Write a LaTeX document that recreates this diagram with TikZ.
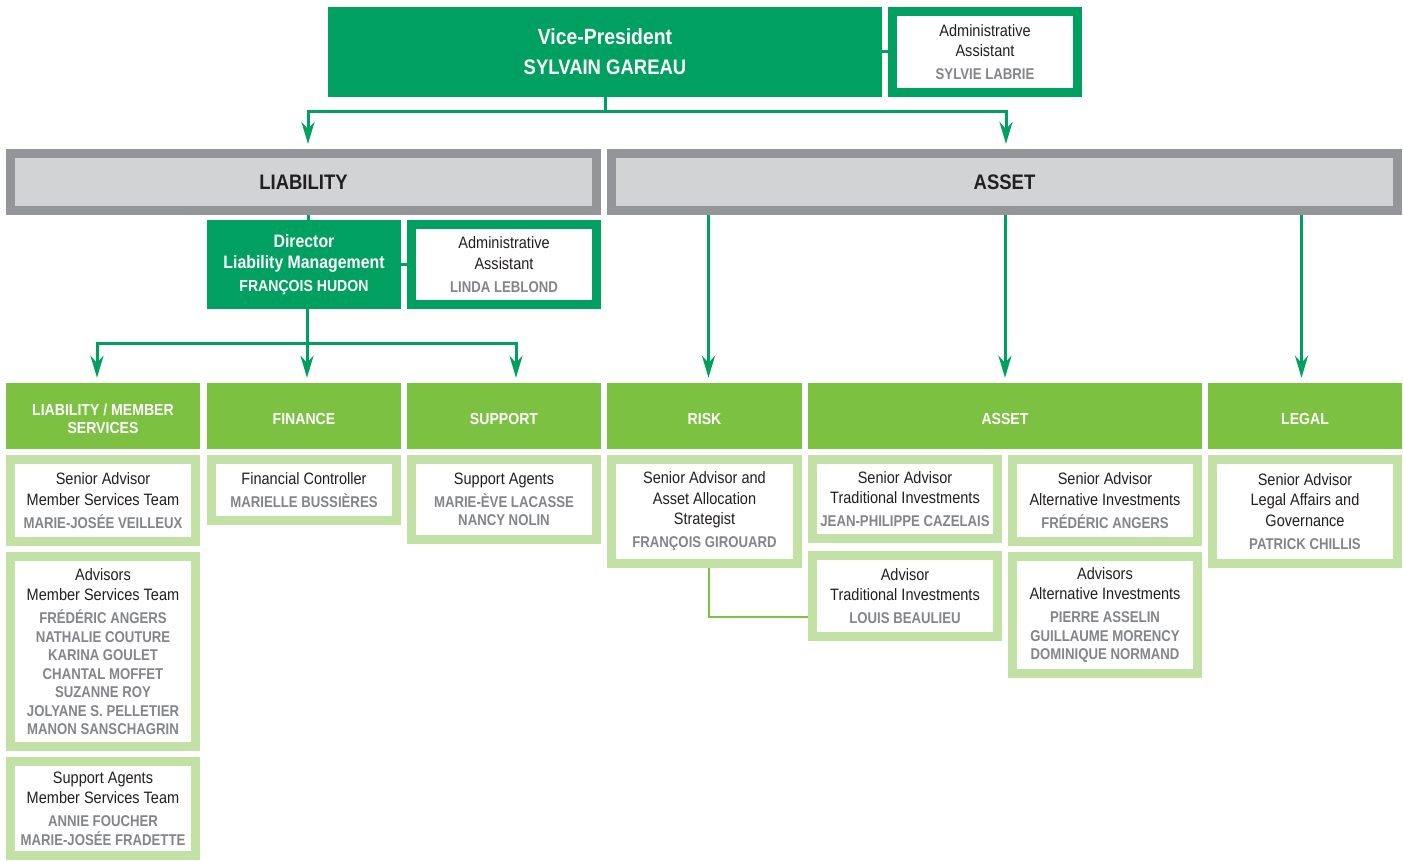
\documentclass[tikz,border=0pt]{standalone}
\usepackage{fontspec}
\setmainfont{Liberation Sans}[FakeStretch=0.88]
\newfontfamily\nmfont{Liberation Sans}[FakeStretch=0.845]
\usetikzlibrary{arrows.meta}
\definecolor{dkgreen}{HTML}{00A160}
\definecolor{ltgreen}{HTML}{7DC142}
\definecolor{palegreen}{HTML}{C2E1A5}
\definecolor{grayborder}{HTML}{939598}
\definecolor{grayfill}{HTML}{D1D3D4}
\definecolor{nmgray}{HTML}{838588}
\definecolor{txtblack}{HTML}{231F20}
\newcommand\nm[1]{{\nmfont\fontsize{15.6}{18}\selectfont\bfseries\color{nmgray}#1}}
\newcommand\solidbx[7]{\node[#1,minimum width={(#5)-(#3)},minimum height={(#6)-(#4)}] (#2) at ({((#3)+(#5))/2},{((#4)+(#6))/2}) {#7};}
\newcommand\bordbx[7]{\node[#1,minimum width={(#5)-(#3)-9},minimum height={(#6)-(#4)-9}] (#2) at ({((#3)+(#5))/2},{((#4)+(#6))/2}) {#7};}
\newcommand\hdrbx[6]{\node[hdrbox,minimum width={(#4)-(#2)},minimum height={(#5)-(#3)}] (#1) at ({((#2)+(#4))/2},{((#3)+(#5))/2}) {};
  \node[hdrtext] (#1-t) at ([yshift=-3pt]#1.center) {#6};}
\tikzset{
  base/.style={inner sep=0pt, align=center, text=txtblack, font=\fontsize{16.5}{20.5}\selectfont},
  vpbox/.style={base, fill=dkgreen, text=white, font=\fontsize{22}{30}\selectfont\bfseries},
  dirbox/.style={base, fill=dkgreen, text=white, font=\fontsize{18}{21.5}\selectfont\bfseries},
  admbox/.style={base, draw=dkgreen, line width=9pt, fill=white},
  grpbox/.style={base, draw=grayborder, line width=9pt, fill=grayfill, font=\fontsize{21}{24}\selectfont\bfseries},
  hdrbox/.style={base, fill=ltgreen},
  hdrtext/.style={base, text=white, font=\fontsize{16}{18.5}\selectfont\bfseries},
  perbox/.style={base, draw=palegreen, line width=9pt, fill=white},
  arr/.style={draw=dkgreen, line width=3pt, shorten >=5pt, -{Stealth[length=22pt,width=13pt,inset=7pt]}},
  link/.style={draw=dkgreen, line width=3pt},
  rlink/.style={draw=ltgreen, line width=2pt}
}
\begin{document}
\begin{tikzpicture}[x=1pt,y=-1pt]
\fill[white] (0,0) rectangle (1403,861);
\useasboundingbox (0,0) rectangle (1403,861);
% top
\solidbx{vpbox}{vp}{328}{7}{882}{97}{Vice-President\\{\fontsize{21}{30}\selectfont SYLVAIN GAREAU}}
\bordbx{admbox}{adm}{888}{7}{1082}{97}{Administrative\\Assistant\\[2.5pt]\nm{SYLVIE LABRIE}}
% groups
\bordbx{grpbox}{liab}{6}{149}{601}{215}{LIABILITY}
\bordbx{grpbox}{asset}{607}{149}{1402}{215}{ASSET}
% director
\solidbx{dirbox}{dir}{207}{220}{401}{309}{Director\\Liability Management\\[1pt]{\fontsize{16}{20}\selectfont FRANÇOIS HUDON}}
\bordbx{admbox}{adm2}{407}{220}{601}{309}{Administrative\\Assistant\\[2.5pt]\nm{LINDA LEBLOND}}
% headers
\hdrbx{hlms}{6}{383}{200}{449}{LIABILITY / MEMBER\\SERVICES}
\hdrbx{hfin}{207}{383}{401}{449}{FINANCE}
\hdrbx{hsup}{407}{383}{601}{449}{SUPPORT}
\hdrbx{hrisk}{607}{383}{802}{449}{RISK}
\hdrbx{hasset}{808}{383}{1202}{449}{ASSET}
\hdrbx{hlegal}{1208}{383}{1402}{449}{LEGAL}
% people
\bordbx{perbox}{p1}{6}{455}{200}{546}{Senior Advisor\\Member Services Team\\[2.5pt]\nm{MARIE-JOSÉE VEILLEUX}}
\bordbx{perbox}{p2}{6}{552}{200}{751}{Advisors\\Member Services Team\\[2.5pt]\nm{FRÉDÉRIC ANGERS}\\[-2pt]\nm{NATHALIE COUTURE}\\[-2pt]\nm{KARINA GOULET}\\[-2pt]\nm{CHANTAL MOFFET}\\[-2pt]\nm{SUZANNE ROY}\\[-2pt]\nm{JOLYANE S. PELLETIER}\\[-2pt]\nm{MANON SANSCHAGRIN}}
\bordbx{perbox}{p3}{6}{757}{200}{860}{Support Agents\\Member Services Team\\[2.5pt]\nm{ANNIE FOUCHER}\\[-2pt]\nm{MARIE-JOSÉE FRADETTE}}
\bordbx{perbox}{p4}{207}{455}{401}{525}{Financial Controller\\[2.5pt]\nm{MARIELLE BUSSIÈRES}}
\bordbx{perbox}{p5}{407}{455}{601}{544}{Support Agents\\[2.5pt]\nm{MARIE-ÈVE LACASSE}\\[-2pt]\nm{NANCY NOLIN}}
\bordbx{perbox}{p6}{607}{455}{802}{568}{Senior Advisor and\\Asset Allocation\\Strategist\\[2.5pt]\nm{FRANÇOIS GIROUARD}}
\bordbx{perbox}{p7}{808}{455}{1002}{543}{Senior Advisor\\Traditional Investments\\[2.5pt]\nm{JEAN-PHILIPPE CAZELAIS}}
\bordbx{perbox}{p8}{808}{551}{1002}{641}{Advisor\\Traditional Investments\\[2.5pt]\nm{LOUIS BEAULIEU}}
\bordbx{perbox}{p9}{1008}{455}{1202}{546}{Senior Advisor\\Alternative Investments\\[2.5pt]\nm{FRÉDÉRIC ANGERS}}
\bordbx{perbox}{p10}{1008}{552}{1202}{678}{Advisors\\Alternative Investments\\[2.5pt]\nm{PIERRE ASSELIN}\\[-2pt]\nm{GUILLAUME MORENCY}\\[-2pt]\nm{DOMINIQUE NORMAND}}
\bordbx{perbox}{p11}{1208}{455}{1402}{568}{Senior Advisor\\Legal Affairs and\\Governance\\[2.5pt]\nm{PATRICK CHILLIS}}
% connectors
\draw[link] (vp.east) -- (adm.west);
\draw[link] (dir.east) -- (adm2.west);
\coordinate (vj) at (605,112);
\draw[link] (vp.south) -- (vj);
\draw[arr] (vj) -| ([xshift=4.5pt]liab.north);
\draw[arr] (vj) -| ([xshift=1.5pt]asset.north);
\draw[link] ([xshift=4.5pt]liab.south) -- ([xshift=4.5pt]liab.south |- dir.north);
\coordinate (dj) at (307,343);
\draw[link] ([xshift=3pt]dir.south) -- (dj);
\draw[arr] (dj) -| ([xshift=-6pt]hlms.north);
\draw[arr] (dj) -- ([xshift=3pt]hfin.north);
\draw[arr] (dj) -| ([xshift=12pt]hsup.north);
\draw[arr] ([xshift=4pt]hrisk.north |- asset.south) -- ([xshift=4pt]hrisk.north);
\draw[arr] (hasset.north |- asset.south) -- (hasset.north);
\draw[arr] ([xshift=-3.5pt]hlegal.north |- asset.south) -- ([xshift=-3.5pt]hlegal.north);
\draw[rlink] ([xshift=4.5pt]p6.south) |- ([yshift=-21pt]p8.west);
\end{tikzpicture}
\end{document}
